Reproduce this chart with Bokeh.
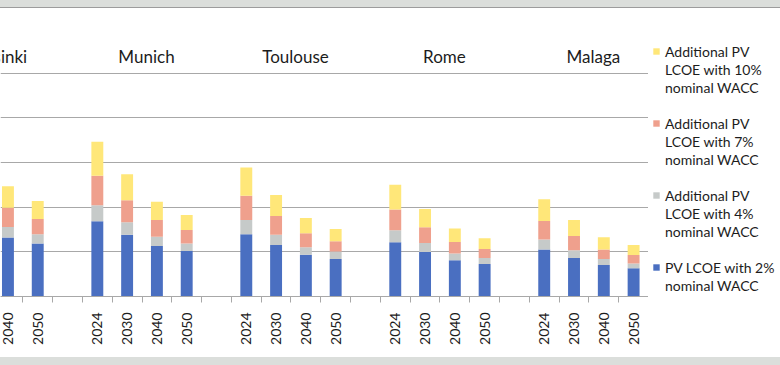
import math
from bokeh.plotting import figure
from bokeh.layouts import row
from bokeh.models import Range1d, FixedTicker, Legend, LegendItem, ColumnDataSource
from bokeh.core.properties import value
from bokeh.embed import file_html
from bokeh.resources import INLINE

cities = ["Helsinki", "Munich", "Toulouse", "Rome", "Malaga"]
years = ["2024", "2030", "2040", "2050"]

# Values per city and year (Helsinki 2024/2030 lie outside the visible crop -> None)
pv_2pct = [None, None, 26.4, 23.7,
           33.7, 27.6, 22.6, 20.4,
           27.9, 23.1, 18.7, 16.8,
           24.3, 19.9, 16.2, 14.5,
           21.0, 17.2, 14.1, 12.6]
add_4pct = [None, None, 4.7, 4.2,
            7.2, 5.7, 4.1, 3.3,
            6.3, 4.6, 3.3, 3.3,
            5.4, 4.1, 3.0, 2.7,
            4.5, 3.5, 2.7, 2.2]
add_7pct = [None, None, 8.6, 6.8,
            13.2, 9.8, 7.5, 6.1,
            10.9, 8.3, 6.3, 4.6,
            9.3, 7.0, 5.2, 4.1,
            8.3, 6.4, 4.3, 3.8]
add_10pct = [None, None, 9.7, 8.1,
             15.2, 11.6, 8.2, 6.7,
             12.7, 9.5, 6.8, 5.5,
             11.0, 8.2, 6.0, 4.8,
             9.8, 7.1, 5.4, 4.5]

# legend texts, one list of lines per series (bottom series first)
series_labels = [["PV LCOE with 2%", "nominal WACC"],
                 ["Additional PV", "LCOE with 4%", "nominal WACC"],
                 ["Additional PV", "LCOE with 7%", "nominal WACC"],
                 ["Additional PV", "LCOE with 10%", "nominal WACC"]]
colors = ["#4a6fc1", "#c6cac9", "#efa08d", "#ffe779"]

FONT = "Lato"
TXT = "#1c1c1c"
GRID = "#a8a8a8"

# positions: each city occupies 5 slots (4 years + 1 gap)
xs, s0, s1, s2, s3, year_lab = [], [], [], [], [], {}
for ci, city in enumerate(cities):
    for yi, yr in enumerate(years):
        k = ci * 4 + yi
        x = ci * 5 + yi
        year_lab[x] = yr
        if pv_2pct[k] is None:
            continue
        xs.append(x)
        s0.append(pv_2pct[k]); s1.append(add_4pct[k]); s2.append(add_7pct[k]); s3.append(add_10pct[k])

src = ColumnDataSource(dict(x=xs, s0=s0, s1=s1, s2=s2, s3=s3))

p = figure(width=648, height=349, x_range=Range1d(1.75, 23.5), y_range=Range1d(0, 120),
           output_backend="svg", toolbar_location=None, y_axis_location=None,
           min_border_left=0, min_border_right=0, min_border_top=20, min_border_bottom=61)
p.outline_line_color = None
p.border_fill_color = "white"
p.background_fill_color = "white"
p.xgrid.visible = False
p.ygrid.grid_line_color = GRID
p.ygrid.ticker = FixedTicker(ticks=[0, 20, 40, 60, 80, 100, 120])

rs = p.vbar_stack(["s0", "s1", "s2", "s3"], x="x", width=0.4, source=src,
                  color=colors, line_color=None)

centers = sorted(year_lab.keys())
bounds = [c + 0.5 for c in range(2, 24)]
ax = p.xaxis[0]
ax.ticker = FixedTicker(ticks=centers, minor_ticks=bounds)
ax.major_label_overrides = {c: year_lab[c] for c in centers}
ax.major_label_orientation = math.pi / 2
ax.major_tick_out = 0
ax.major_tick_in = 0
ax.minor_tick_out = 6
ax.minor_tick_in = 0
ax.minor_tick_line_color = GRID
ax.axis_line_color = GRID
ax.major_label_standoff = 10
ax.major_label_text_font = FONT
ax.major_label_text_font_size = "14px"
ax.major_label_text_color = TXT

# city names above the groups
city_x = [ci * 5 + 1.65 for ci in range(len(cities))]
p.text(x=city_x, y=[107.5] * len(cities), text=cities, text_font=value(FONT),
       text_font_size="17px", text_align="center", text_baseline="middle", text_color=TXT)

# legend panel: a second, axis-less figure to the right
q = figure(width=132, height=349, x_range=Range1d(0, 1), y_range=Range1d(0, 1),
           output_backend="svg", toolbar_location=None, x_axis_location=None,
           y_axis_location=None, min_border=0)
q.outline_line_color = None
q.border_fill_color = "white"
q.background_fill_color = "white"
q.grid.visible = False

# swatch renderers hold one bar each, placed outside the visible range
swatch = [q.vbar(x=[5], top=[1], width=0.1, color=c, line_color=None) for c in colors]
blank = q.vbar(x=[5], top=[1], width=0.1, fill_alpha=0, line_alpha=0)
items = []
for n, i in enumerate([3, 2, 1, 0]):
    lines = series_labels[i]
    items.append(LegendItem(label=lines[0], renderers=[swatch[i]]))
    for ln in lines[1:]:
        items.append(LegendItem(label=ln, renderers=[blank]))
    if n < 3:
        items.append(LegendItem(label=" ", renderers=[blank]))

leg = Legend(items=items, location=(4, 2), orientation="vertical", ncols=1,
             glyph_width=8, glyph_height=8, label_standoff=5, spacing=0,
             label_height=18, padding=0, margin=0, border_line_color=None,
             background_fill_alpha=0, label_text_baseline="alphabetic",
             label_text_font=FONT, label_text_font_size="14px", label_text_color=TXT)
q.add_layout(leg, "center")

lay = row(p, q, spacing=0)
lay.styles = {"margin-top": "8px",
              "box-shadow": "0 -1px 0 0 #9c9c9c, 0 -8px 0 0 #dbdedb, 0 8px 0 0 #dbdedb"}

open("out.html", "w").write(file_html(lay, INLINE))
